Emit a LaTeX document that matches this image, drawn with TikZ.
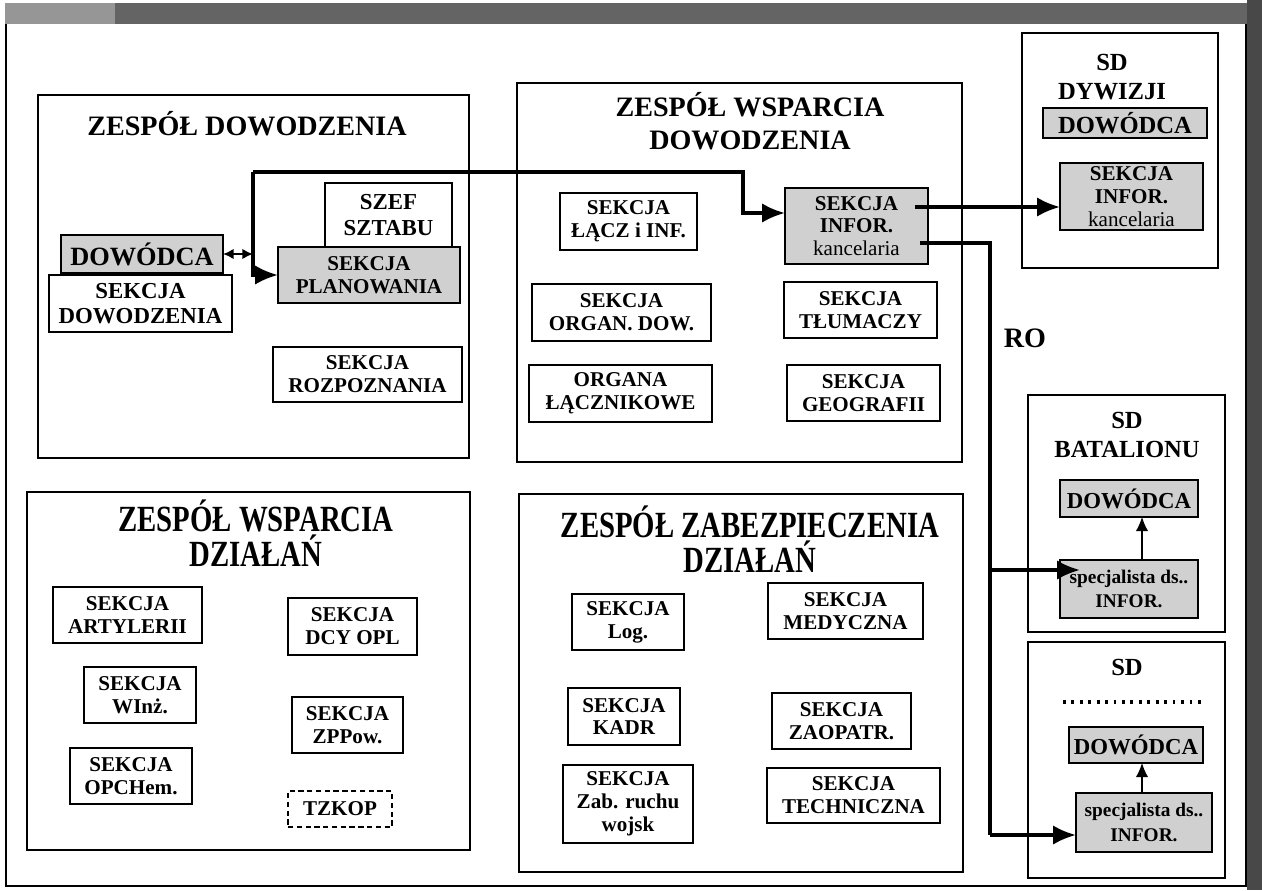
\documentclass[tikz,border=0pt]{standalone}
\usepackage{fontspec}
\setmainfont{Liberation Serif}
\newfontfamily\condfont[FakeStretch=0.78]{Liberation Serif}
\usetikzlibrary{arrows.meta,calc}
\definecolor{shade}{RGB}{208,208,208}
\definecolor{band}{RGB}{100,100,100}
\definecolor{bandL}{RGB}{150,150,150}
\definecolor{bandR}{RGB}{72,72,72}
\begin{document}
\begin{tikzpicture}[x=0.02cm,y=-0.02cm,
  area/.style n args={4}{at={({(#1+#3)/2},{(#2+#4)/2})}, minimum width={(#3-#1)*0.02cm}, minimum height={(#4-#2)*0.02cm}},
  grp/.style={draw, line width=0.6pt, inner sep=0pt, outer sep=0pt},
  box/.style={draw, line width=0.7pt, inner sep=0pt, outer sep=0pt, align=center, font=\fontsize{12}{13}\selectfont\bfseries},
  sbox/.style={box, fill=shade},
  head/.style={align=center, inner sep=0pt, font=\fontsize{16}{19}\selectfont\bfseries},
  chead/.style={align=center, inner sep=0pt, font=\condfont\fontsize{21}{20}\selectfont\bfseries},
  sdhead/.style={align=center, inner sep=0pt, font=\fontsize{14}{17}\selectfont\bfseries},
  conn/.style={line width=1.9pt},
  bigarrow/.style={-{Latex[length=13pt,width=11pt]}},
  smallarrow/.style={-{Latex[length=8pt,width=7pt]}},
]
\useasboundingbox (0,0) rectangle (1262,890);
\fill[white] (0,0) rectangle (1262,890);
\fill[band] (5,3) rectangle (1262,24);
\fill[bandL] (5,3) rectangle (115,24);
\fill[bandR] (1247,0) rectangle (1262,890);
\draw[line width=0.8pt] (6,24) -- (6,886) -- (1246,886) -- (1246,24);

% ---------- ZESPÓŁ DOWODZENIA ----------
\node[grp, area={38}{95}{469}{458}] (g1) {};
\node[head] (h1) at (247,124) {ZESPÓŁ DOWODZENIA};
\node[sbox, font=\fontsize{15}{16}\selectfont\bfseries, area={61}{235}{223}{273}] (dow1) {DOWÓDCA};
\node[box, font=\fontsize{13}{14}\selectfont\bfseries, area={49}{275}{232}{332}] (sdow) {SEKCJA\\DOWODZENIA};
\node[box, font=\fontsize{13}{15}\selectfont\bfseries, area={325}{183}{452}{247}] (szef) {SZEF\\SZTABU};
\node[sbox, area={278}{247}{460}{303}] (plan) {SEKCJA\\PLANOWANIA};
\node[box, area={273}{347}{462}{402}] (rozp) {SEKCJA\\ROZPOZNANIA};

% ---------- ZESPÓŁ WSPARCIA DOWODZENIA ----------
\node[grp, area={517}{83}{962}{462}] (g2) {};
\node[head] (h2) at (750,121) {ZESPÓŁ WSPARCIA\\DOWODZENIA};
\node[box, area={560}{193}{697}{250}] (lacz) {SEKCJA\\ŁĄCZ i INF.};
\node[sbox, area={785}{188}{928}{264}] (infor) {SEKCJA\\INFOR.\\{\mdseries kancelaria}};
\node[box, area={532}{284}{711}{341}] (organ) {SEKCJA\\ORGAN. DOW.};
\node[box, area={784}{282}{937}{338}] (tlum) {SEKCJA\\TŁUMACZY};
\node[box, area={529}{365}{712}{422}] (orgl) {ORGANA\\ŁĄCZNIKOWE};
\node[box, area={787}{365}{940}{421}] (geo) {SEKCJA\\GEOGRAFII};

% ---------- SD DYWIZJI ----------
\node[grp, area={1022}{33}{1218}{268}] (sd1) {};
\node[sdhead] (sd1h) at (1112,77) {SD\\DYWIZJI};
\node[sbox, font=\fontsize{14}{15}\selectfont\bfseries, area={1043}{108}{1207}{138}] (dow2) {DOWÓDCA};
\node[sbox, area={1060}{163}{1203}{230}] (dinf) {SEKCJA\\INFOR.\\{\mdseries kancelaria}};

% ---------- SD BATALIONU ----------
\node[grp, area={1028}{395}{1225}{632}] (sd2) {};
\node[sdhead] (sd2h) at (1127,435) {SD\\BATALIONU};
\node[sbox, font=\fontsize{13}{14}\selectfont\bfseries, area={1060}{480}{1198}{517}] (dow3) {DOWÓDCA};
\node[sbox, font=\fontsize{11}{14}\selectfont\bfseries, area={1060}{560}{1198}{618}] (spec1) {specjalista ds..\\INFOR.};

% ---------- SD ... ----------
\node[grp, area={1028}{642}{1225}{878}] (sd3) {};
\node[sdhead] (sd3h) at (1127,667) {SD};
\coordinate (dl) at (1063,702);
\coordinate (dr) at (1206,702);
\draw[line width=1.8pt, dash pattern=on 1.6pt off 3.2pt] (dl) -- (dr);
\node[sbox, font=\fontsize{13}{14}\selectfont\bfseries, area={1069}{727}{1203}{763}] (dow4) {DOWÓDCA};
\node[sbox, font=\fontsize{11}{14}\selectfont\bfseries, area={1076}{793}{1212}{852}] (spec2) {specjalista ds..\\INFOR.};

\node[font=\fontsize{16}{18}\selectfont\bfseries] (ro) at (1025,338) {RO};

% ---------- ZESPÓŁ WSPARCIA DZIAŁAŃ ----------
\node[grp, area={27}{492}{470}{850}] (g3) {};
\node[chead] (h3) at (256,533) {ZESPÓŁ WSPARCIA\\DZIAŁAŃ};
\node[box, area={53}{587}{202}{643}] (art) {SEKCJA\\ARTYLERII};
\node[box, area={288}{598}{417}{655}] (opl) {SEKCJA\\DCY OPL};
\node[box, area={84}{667}{196}{723}] (winz) {SEKCJA\\WInż.};
\node[box, area={292}{697}{403}{753}] (zpp) {SEKCJA\\ZPPow.};
\node[box, area={70}{748}{192}{804}] (opch) {SEKCJA\\OPCHem.};
\node[box, dash pattern=on 3pt off 2pt, area={288}{791}{392}{827}] (tzkop) {TZKOP};

% ---------- ZESPÓŁ ZABEZPIECZENIA DZIAŁAŃ ----------
\node[grp, area={519}{494}{963}{872}] (g4) {};
\node[chead] (h4) at (750,539) {ZESPÓŁ ZABEZPIECZENIA\\DZIAŁAŃ};
\node[box, area={572}{594}{684}{650}] (log) {SEKCJA\\Log.};
\node[box, area={768}{583}{923}{639}] (med) {SEKCJA\\MEDYCZNA};
\node[box, area={568}{688}{680}{745}] (kadr) {SEKCJA\\KADR};
\node[box, area={772}{693}{911}{749}] (zaop) {SEKCJA\\ZAOPATR.};
\node[box, area={563}{765}{693}{843}] (zab) {SEKCJA\\Zab. ruchu\\wojsk};
\node[box, area={767}{768}{940}{823}] (tech) {SEKCJA\\TECHNICZNA};

% ---------- connectors ----------
\coordinate (jtop) at (253,172);
\coordinate (jbend) at (743,172);
\draw[line width=1.2pt, {Latex[length=6pt,width=6pt]}-{Latex[length=6pt,width=6pt]}] (dow1.east) -- (dow1.east -| jtop);
\draw[conn, bigarrow] (jtop) |- (plan.west);
\draw[conn, bigarrow] (jtop) -- (jbend) |- ($(infor.west)+(0,-13)$);

\path ($(infor.east)+(-13,-19)$) coordinate (o1);
\path ($(infor.east)+(-8,17)$) coordinate (o2);
\coordinate (vb) at (990,835);
\coordinate (vm) at (990,570);
\draw[conn, bigarrow] (o1) -- (o1 -| dinf.west);
\draw[conn] (o2) -| (vb);
\draw[conn, bigarrow] (vb) -- (vb -| spec2.west);
\draw[conn, bigarrow] (vm) -- ($(vm -| spec1.west)+(20,0)$);

\path ([xshift=0.26cm]spec1.north) coordinate (u1);
\draw[line width=0.7pt, smallarrow] (u1) -- (u1 |- dow3.south);
\path ([xshift=-0.04cm]spec2.north) coordinate (u2);
\draw[line width=0.7pt, smallarrow] (u2) -- (u2 |- dow4.south);
\end{tikzpicture}
\end{document}
